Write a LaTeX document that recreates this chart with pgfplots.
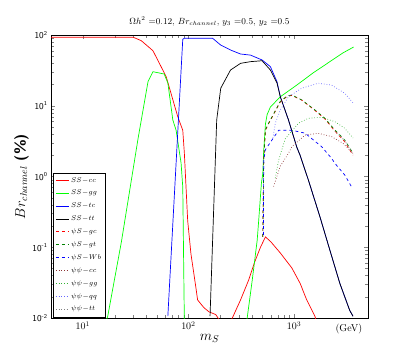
\documentclass[border=0pt]{standalone}
\usepackage{pgfplots}
\pgfplotsset{compat=1.18}
\definecolor{dkgreen}{rgb}{0,0.5,0}
\definecolor{brownred}{rgb}{0.55,0.2,0.2}
\definecolor{dotgreen}{rgb}{0.2,0.7,0.2}
\definecolor{dotblue}{rgb}{0.4,0.4,1}
\begin{document}
\begin{tikzpicture}
\begin{axis}[name=ax,
  xmode=log, ymode=log,
  width=317bp, height=283bp, scale only axis,
  xmin=5, xmax=5000, ymin=0.01, ymax=100,
  xtick={10,100,1000},
  ytick={0.01,0.1,1,10,100},
  yticklabels={{\sffamily 10\textsuperscript{-2}},{\sffamily 10\textsuperscript{-1}},{\sffamily 10\textsuperscript{0}},{\sffamily 10\textsuperscript{1}},{\sffamily 10\textsuperscript{2}}},
  yticklabel style={font=\small},
  title={$\Omega h^2$ =0.12, $Br_{channel}$, $y_3$ =0.5, $y_2$ =0.5},
  title style={font=\small, yshift=-1pt},
  xlabel={$m_S$}, xlabel style={font=\Large, yshift=2pt},
  ylabel={$Br_{channel}$ \textsf{\textbf{(\%)}}}, ylabel style={font=\Large, yshift=-3pt},
  tick align=inside,
  legend style={at={(0.006,0.003)}, anchor=south west, font=\scriptsize, draw=black, row sep=2.6pt, inner sep=2.5pt},
  legend cell align=left,
  legend image code/.code={\draw[#1] plot coordinates {(0cm,0cm) (0.45cm,0cm)};},
  every axis plot/.append style={line width=0.7pt},
]
% SS-cc
\addplot[red] coordinates {(5,93) (30,93) (35.8,83) (46.1,60) (61.5,25.8) (79.2,7.0) (88.3,4.5) (91.4,2.15) (94.8,0.71) (98.3,0.237) (105.6,0.080) (117.5,0.027) (122,0.018) (140,0.014) (156.7,0.0122) (181,0.0112) (194,0.0096) (220,0.007) (240,0.008) (260,0.0100) (311,0.018) (370,0.034) (420,0.06) (480,0.10) (535,0.14) (600,0.12) (740,0.083) (951,0.051) (1138,0.031) (1316,0.018) (1574,0.0106) (1650,0.008)};
\addlegendentry{$SS\!-\!cc$}
% SS-gg
\addplot[green] coordinates {(16.5,0.009) (17.2,0.0105) (23.2,0.12) (33.4,3.5) (41.4,21.9) (46.1,30.3) (58.9,28.1) (63.8,21) (71.1,6.3) (76.4,4.5) (85.1,1.55) (88.3,0.71) (91.4,0.009) (350,0.008) (360,0.0102) (401,0.034) (447,0.126) (460,0.22) (490,0.8) (505,1.1) (515,2.3) (535,5.5) (555,7.5) (596,9.6) (740,13.4) (1059,19.6) (1506,29) (2178,42) (2887,55.7) (3654,67.6)};
\addlegendentry{$SS\!-\!gg$}
% SS-tc
\addplot[blue] coordinates {(63.8,0.0106) (88.3,87) (91.4,90) (169,90) (202,72) (250,61.4) (311,53.9) (386,52) (497,44.4) (596,35.7) (688,21.9) (740,13.4) (884,6.3) (1059,2.6) (1138,2.0) (1361,0.9) (1754,0.27) (2178,0.091) (2704,0.031) (3357,0.0128) (3606,0.0106)};
\addlegendentry{$SS\!-\!tc$}
% SS-tt
\addplot[black] coordinates {(160,0.0106) (185,6.3) (202,17.7) (250,32) (311,39.8) (386,42) (497,43.3) (596,32) (688,21) (740,13.4) (884,6.3) (1059,2.6) (1138,2.0) (1361,0.9) (1754,0.27) (2178,0.091) (2704,0.031) (3357,0.0128) (3606,0.0106)};
\addlegendentry{$SS\!-\!tt$}
% psiS-gc
\addplot[red, dashed] coordinates {(505,0.14) (515,1.7) (535,4.5) (574,5.6) (739,11.3) (860,13.6) (951,14.0) (1180,12.0) (1574,8.6) (1955,6.5) (2427,4.4) (3013,3.1) (3606,2.0)};
\addlegendentry{$\psi S\!-\!gc$}
% psiS-gt
\addplot[dkgreen, dashed] coordinates {(505,0.14) (515,1.7) (535,4.6) (574,5.7) (739,11.5) (860,13.8) (951,14.2) (1180,12.1) (1574,8.71) (1955,6.65) (2427,4.54) (3013,3.28) (3606,2.13)};
\addlegendentry{$\psi S\!-\!gt$}
% psiS-Wb
\addplot[blue, dashed] coordinates {(512,0.15) (514,0.6) (515,1.7) (535,2.4) (574,2.8) (713,4.5) (951,4.5) (1268,4.1) (1820,2.64) (2259,1.81) (2427,1.54) (3013,1.05) (3483,0.72) (3606,0.68)};
\addlegendentry{$\psi S\!-\!Wb$}
% psipsi-cc
\addplot[brownred, dotted] coordinates {(639,0.72) (739,1.4) (884,2.13) (951,2.64) (1268,3.86) (1691,4.08) (2259,3.67) (2904,2.94) (3606,2.13)};
\addlegendentry{$\psi\psi\!-\!cc$}
% psipsi-gg
\addplot[dotgreen, dotted] coordinates {(663,0.95) (713,1.7) (823,3.4) (1097,5.65) (1361,6.65) (1820,6.87) (2427,5.96) (3013,4.8) (3606,3.5)};
\addlegendentry{$\psi\psi\!-\!gg$}
% psipsi-qq
\addplot[dotblue, dotted] coordinates {(630,3.5) (663,5.65) (739,8.71) (884,13.4) (1180,17.7) (1691,20.8) (2259,19.6) (3013,15.0) (3606,11.0)};
\addlegendentry{$\psi\psi\!-\!qq$}
% psipsi-tt
\addplot[gray, dotted] coordinates {(2427,4.4) (3013,3.2) (3606,2.1)};
\addlegendentry{$\psi\psi\!-\!tt$}
\coordinate (gev) at (axis cs:3300,0.01);
\end{axis}
\node[below, yshift=-3pt] at (gev) {(GeV)};
\pgfresetboundingbox
\path (ax.south west) ++(-51bp,-36bp) rectangle ++(409bp,354bp);
\end{tikzpicture}
\end{document}
